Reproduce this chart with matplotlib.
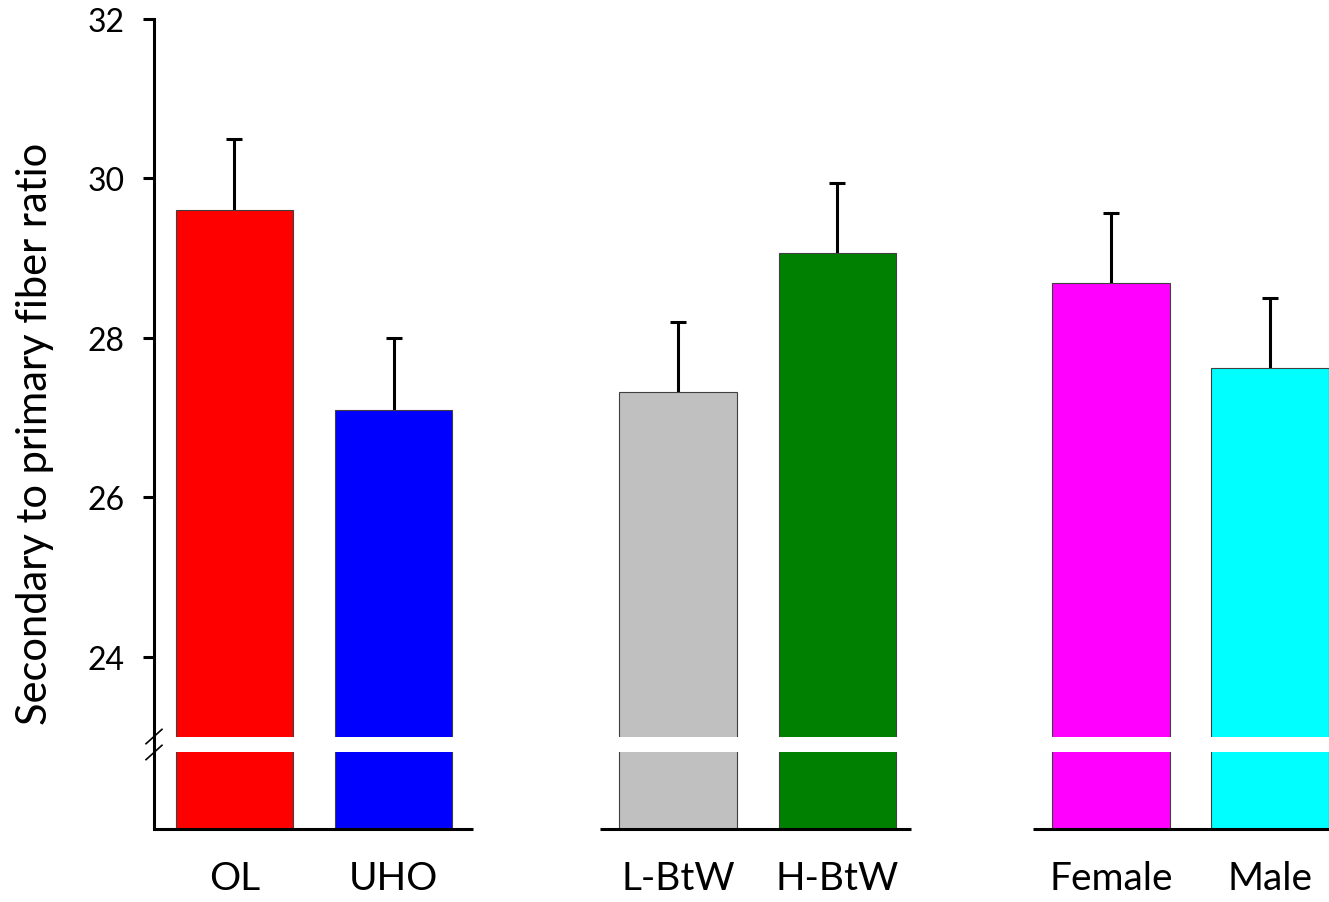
import numpy as np
import matplotlib
matplotlib.use("Agg")
import matplotlib.pyplot as plt

plt.rcParams['font.family'] = ['Lato', 'DejaVu Sans']

categories = ["OL", "UHO", "L-BtW", "H-BtW", "Female", "Male"]
values = [29.6, 27.1, 27.32, 29.07, 28.69, 27.62]
errors = [0.9, 0.9, 0.88, 0.87, 0.88, 0.88]
colors = ["#FF0000", "#0000FF", "#C0C0C0", "#008000", "#FF00FF", "#00FFFF"]
yticks = [24, 26, 28, 30, 32]
ylabel = "Secondary to primary fiber ratio"

# layout
group_offsets = [0.0, 2.79, 5.51]
x = np.array([g + i for g in group_offsets for i in (0, 1)])
width = 0.74
ymin, ymax = 21.84, 32.0
brk_lo, brk_hi = 22.8, 23.0

fig = plt.figure(figsize=(13.29, 9.03), dpi=100)
ax = fig.add_axes([154 / 1329, 73 / 903, 1175 / 1329, 810 / 903])
ax.set_xlim(-0.506, 6.88)
ax.set_ylim(ymin, ymax)

vals = np.array(values)
errs = np.array(errors)
ax.errorbar(x, vals, yerr=[vals - ymin, errs], fmt='none', ecolor='black',
            elinewidth=2.2, capsize=6, capthick=2.2, zorder=1)
ax.bar(x, vals - ymin, bottom=ymin, width=width, color=colors,
       edgecolor='#404040', linewidth=0.8, zorder=2)

# break band across bars
ax.fill_between([x[0] - width / 2 - 0.02, 6.88], brk_lo, brk_hi, color='white',
                zorder=3, linewidth=0)

# spines
for s in ['top', 'right', 'bottom']:
    ax.spines[s].set_visible(False)
ax.spines['left'].set_linewidth(2.2)

# separate baseline segments for each group
segs = [(-0.506, 1.5), (2.30, 4.25), (5.02, 6.88)]
for a, b in segs:
    ax.plot([a, b], [ymin, ymin], color='black', lw=2.2, clip_on=False,
            solid_capstyle='butt', zorder=4)

# break marks on y axis
for yb in (brk_lo, brk_hi):
    ax.plot([-0.506 - 0.05, -0.506 + 0.05], [yb - 0.09, yb + 0.09],
            color='black', lw=1.2, clip_on=False, zorder=5)

ax.set_yticks(yticks)
ax.set_yticklabels([str(t) for t in yticks], fontsize=23)
ax.tick_params(axis='y', length=8, width=2.2, pad=13)
ax.set_xticks(x)
ax.set_xticklabels(categories, fontsize=28)
ax.tick_params(axis='x', length=0, pad=22)

fig.text(35 / 1329, 1 - 434 / 903, ylabel, rotation=90, fontsize=30,
         ha='center', va='center')

fig.savefig("out.png", dpi=100, facecolor='white')
